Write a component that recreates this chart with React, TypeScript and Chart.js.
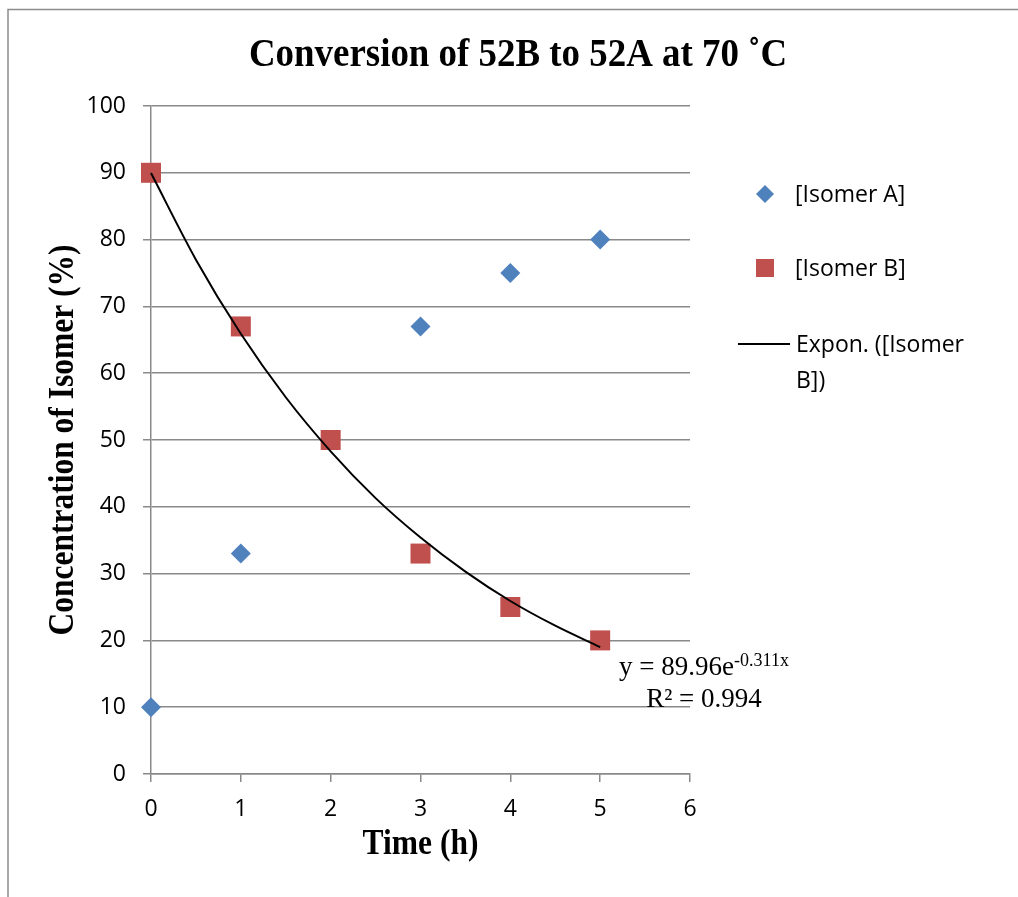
import React, { useEffect, useRef } from 'react';
import { Chart, registerables } from 'chart.js';

Chart.register(...registerables);

// ---- data ----
const timeA = [0, 1, 3, 4, 5];
const isomerA = [10, 33, 67, 75, 80];
const timeB = [0, 1, 2, 3, 4, 5];
const isomerB = [90, 67, 50, 33, 25, 20];
// exponential trendline of [Isomer B]
const trendTime = [0, 0.5, 1, 1.5, 2, 2.5, 3, 3.5, 4, 4.5, 5];
const trendB = [89.96, 77.0, 65.9, 56.4, 48.3, 41.3, 35.4, 30.3, 25.9, 22.2, 19.0];

const titleText = 'Conversion of 52B to 52A at 70 ˚C';
const xTitle = 'Time (h)';
const yTitle = 'Concentration of Isomer (%)';
const legendA = '[Isomer A]';
const legendB = '[Isomer B]';
const legendTrend = ['Expon. ([Isomer', 'B])'];
const eqMain = 'y = 89.96e';
const eqSup = '-0.311x';
const eqR2 = 'R² = 0.994';

const xMin = 0, xMax = 6, xStep = 1;
const yMin = 0, yMax = 100, yStep = 10;

const BLUE = '#4F81BD';
const RED = '#C0504D';
const GRID = '#898989';
const SANS = "'Open Sans', 'Noto Sans', sans-serif";
const SERIF = "'Liberation Serif', 'DejaVu Serif', serif";

const decorPlugin = {
  id: 'decor',
  afterDraw(chart: any) {
    const ctx = chart.ctx as CanvasRenderingContext2D;
    const area = chart.chartArea;
    ctx.save();
    // outer frame
    ctx.strokeStyle = '#8c8c8c';
    ctx.lineWidth = 1.5;
    ctx.beginPath();
    ctx.moveTo(8, 897);
    ctx.lineTo(8, 9.5);
    ctx.lineTo(1018, 9.5);
    ctx.stroke();

    ctx.fillStyle = '#000';
    // title (slightly condensed serif)
    ctx.font = `bold 41px ${SERIF}`;
    ctx.textAlign = 'center';
    ctx.textBaseline = 'alphabetic';
    ctx.save();
    ctx.translate(518, 66);
    ctx.scale(0.9, 1);
    ctx.fillText(titleText, 0, 0);
    ctx.restore();

    // x title
    ctx.font = `bold 35px ${SERIF}`;
    ctx.save();
    ctx.translate((area.left + area.right) / 2, 854);
    ctx.scale(0.9, 1);
    ctx.fillText(xTitle, 0, 0);
    ctx.restore();

    // y title
    ctx.save();
    ctx.translate(73, (area.top + area.bottom) / 2);
    ctx.rotate(-Math.PI / 2);
    ctx.scale(0.9, 1);
    ctx.fillText(yTitle, 0, 0);
    ctx.restore();

    // legend
    ctx.fillStyle = BLUE;
    ctx.beginPath();
    ctx.moveTo(765, 185);
    ctx.lineTo(774, 194);
    ctx.lineTo(765, 203);
    ctx.lineTo(756, 194);
    ctx.closePath();
    ctx.fill();
    ctx.fillStyle = RED;
    ctx.fillRect(756, 259, 18, 18);
    ctx.strokeStyle = '#000';
    ctx.lineWidth = 2;
    ctx.beginPath();
    ctx.moveTo(738, 344);
    ctx.lineTo(790, 344);
    ctx.stroke();

    ctx.fillStyle = '#000';
    ctx.font = `23px ${SANS}`;
    ctx.textAlign = 'left';
    ctx.fillText(legendA, 795, 202);
    ctx.fillText(legendB, 795, 276);
    ctx.fillText(legendTrend[0], 796, 352);
    ctx.fillText(legendTrend[1], 796, 388);

    // trendline equation
    ctx.font = `27px ${SERIF}`;
    const wMain = ctx.measureText(eqMain).width;
    ctx.font = `18px ${SERIF}`;
    const wSup = ctx.measureText(eqSup).width;
    const cx = 704;
    const x0 = cx - (wMain + wSup) / 2;
    ctx.font = `27px ${SERIF}`;
    ctx.fillText(eqMain, x0, 675);
    ctx.font = `18px ${SERIF}`;
    ctx.fillText(eqSup, x0 + wMain, 666);
    ctx.font = `27px ${SERIF}`;
    ctx.textAlign = 'center';
    ctx.fillText(eqR2, cx, 707);
    ctx.restore();
  },
};

export default function App() {
  const ref = useRef<HTMLCanvasElement>(null);
  useEffect(() => {
    if (!ref.current) return;
    const chart = new Chart(ref.current, {
      type: 'scatter',
      data: {
        datasets: [
          {
            label: 'Expon. ([Isomer B])',
            data: trendTime.map((x, i) => ({ x, y: trendB[i] })),
            showLine: true,
            borderColor: '#000',
            borderWidth: 2,
            pointRadius: 0,
            cubicInterpolationMode: 'monotone',
            clip: false,
            order: 0,
          } as any,
          {
            label: legendA,
            data: timeA.map((x, i) => ({ x, y: isomerA[i] })),
            pointStyle: 'rectRot',
            pointRadius: 10,
            backgroundColor: BLUE,
            borderColor: BLUE,
            borderWidth: 0,
            clip: false,
            order: 1,
          } as any,
          {
            label: legendB,
            data: timeB.map((x, i) => ({ x, y: isomerB[i] })),
            pointStyle: 'rect',
            pointRadius: 14.14,
            backgroundColor: RED,
            borderColor: RED,
            borderWidth: 0,
            clip: false,
            order: 2,
          } as any,
        ],
      },
      options: {
        animation: false,
        responsive: false,
        events: [],
        layout: { padding: { left: 0, top: 106, right: 328, bottom: 0 } },
        plugins: {
          legend: { display: false },
          title: { display: false },
          tooltip: { enabled: false },
        },
        scales: {
          x: {
            type: 'linear',
            min: xMin,
            max: xMax,
            ticks: {
              stepSize: xStep,
              color: '#000',
              font: { family: SANS, size: 23 },
              padding: 14,
              maxRotation: 0,
            },
            grid: {
              drawOnChartArea: false,
              drawTicks: true,
              tickLength: 8,
              color: GRID,
              lineWidth: 1.5,
            },
            border: { display: true, color: GRID, width: 1.5 },
            afterFit: (s: any) => { s.height = 123; },
          },
          y: {
            type: 'linear',
            min: yMin,
            max: yMax,
            ticks: {
              stepSize: yStep,
              color: '#000',
              font: { family: SANS, size: 23 },
              padding: 17,
            },
            grid: {
              drawOnChartArea: true,
              drawTicks: true,
              tickLength: 8,
              color: GRID,
              lineWidth: 1.5,
            },
            border: { display: true, color: GRID, width: 1.5 },
            afterFit: (s: any) => { s.width = 151; },
          },
        },
      },
      plugins: [decorPlugin],
    } as any);
    return () => chart.destroy();
  }, []);
  return (
    <div style={{ position: 'absolute', left: 0, top: 0, width: 1018, height: 897, background: '#fff' }}>
      <canvas ref={ref} width={1018} height={897} style={{ display: 'block' }} />
    </div>
  );
}
